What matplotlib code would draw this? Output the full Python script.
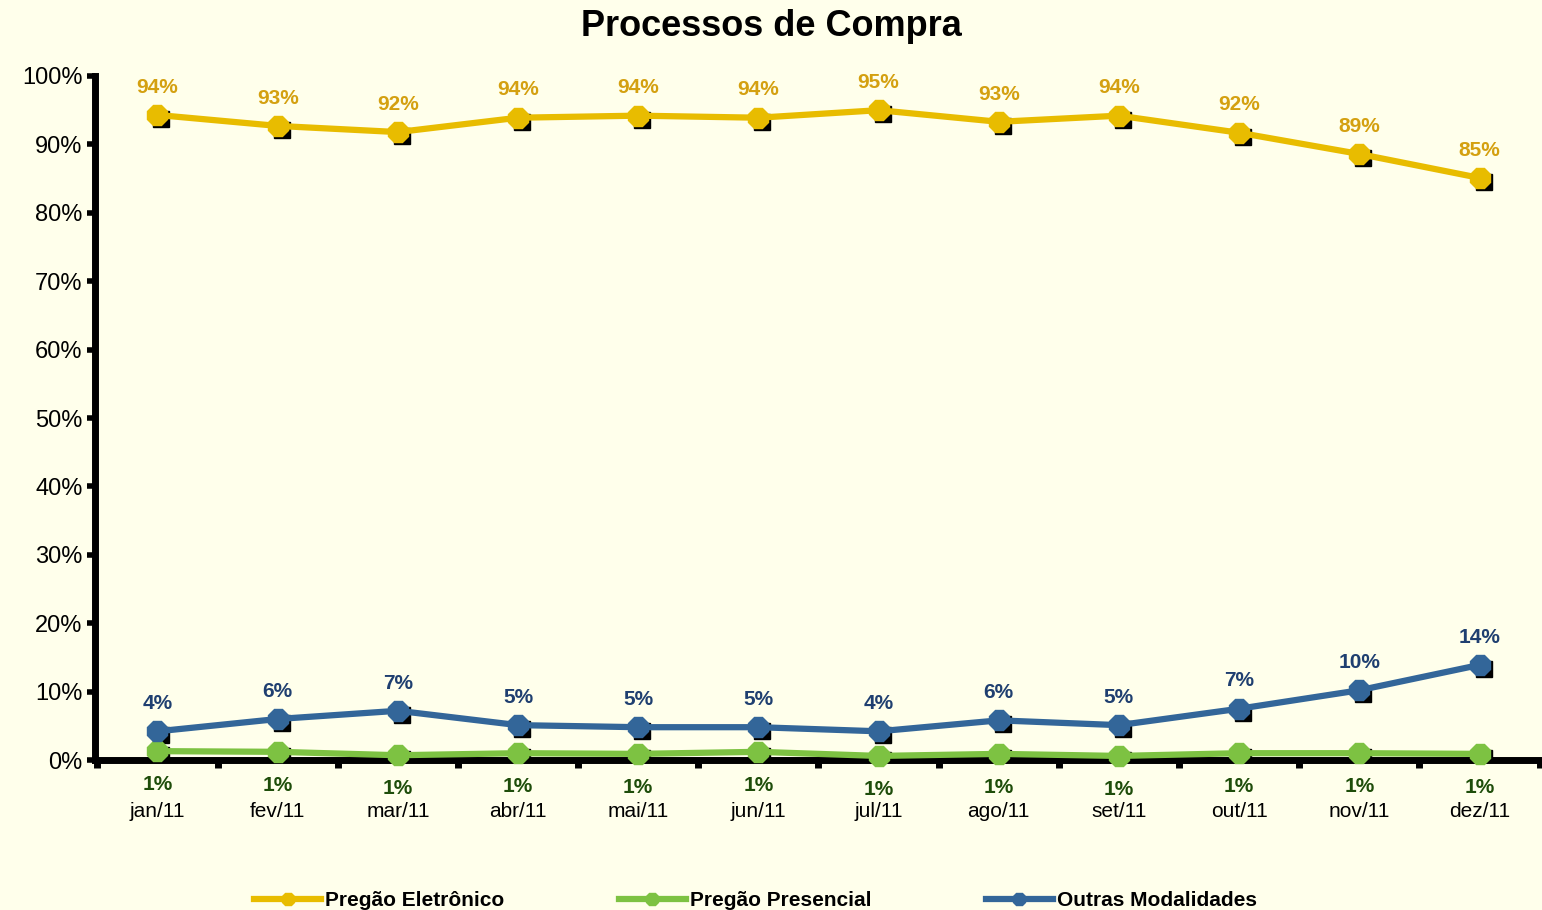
import matplotlib.pyplot as plt
from matplotlib.transforms import ScaledTranslation

meses = ["jan/11", "fev/11", "mar/11", "abr/11", "mai/11", "jun/11",
         "jul/11", "ago/11", "set/11", "out/11", "nov/11", "dez/11"]

eletronico = [94.3, 92.7, 91.8, 93.9, 94.2, 93.9, 95.0, 93.3, 94.2, 91.7, 88.6, 85.1]
presencial = [1.3, 1.2, 0.7, 1.0, 0.9, 1.2, 0.6, 0.9, 0.6, 1.0, 1.0, 0.9]
outras = [4.2, 6.0, 7.2, 5.1, 4.8, 4.8, 4.2, 5.8, 5.1, 7.5, 10.2, 13.9]

rot_eletronico = ["94%", "93%", "92%", "94%", "94%", "94%", "95%", "93%", "94%", "92%", "89%", "85%"]
rot_presencial = ["1%"] * 12
rot_outras = ["4%", "6%", "7%", "5%", "5%", "5%", "4%", "6%", "5%", "7%", "10%", "14%"]

BG = "#FFFFEB"
plt.rcParams["font.family"] = ["Liberation Sans", "DejaVu Sans"]

fig = plt.figure(figsize=(15.42, 9.10), dpi=100, facecolor=BG)
ax = fig.add_axes([0.0616, 0.1648, 0.9384, 0.7517])
ax.set_facecolor(BG)

x = list(range(len(meses)))
series = [
    (eletronico, rot_eletronico, "#E8BC00", "#D4A010", 20, "Pregão Eletrônico"),
    (presencial, rot_presencial, "#7DC242", "#1E4D0A", -24, "Pregão Presencial"),
    (outras, rot_outras, "#336699", "#1F3F70", 20, "Outras Modalidades"),
]

sombra = ax.transData + ScaledTranslation(4 / 100, -4 / 100, fig.dpi_scale_trans)
handles = []
for vals, rots, cor, cor_rot, off, nome in series:
    # sombra preta atras dos marcadores
    ax.plot(x, vals, linestyle="none", marker="s", markersize=12, color="black",
            transform=sombra, zorder=2)
    h, = ax.plot(x, vals, color=cor, linewidth=4.5, marker="8", markersize=16,
                 markeredgecolor=cor, zorder=3, label=nome, clip_on=False)
    handles.append(h)
    for xi, v, r in zip(x, vals, rots):
        ax.annotate(r, (xi, v), xytext=(0, off), textcoords="offset points",
                    ha="center", va="center", fontsize=15, fontweight="bold",
                    color=cor_rot)

ax.set_xlim(-0.52, len(meses) - 0.48)
ax.set_ylim(0, 100)
ax.set_yticks(range(0, 101, 10))
ax.set_yticklabels([f"{v}%" for v in range(0, 101, 10)], fontsize=17)

ax.set_xticks([i + 0.5 for i in range(-1, len(meses))])
ax.set_xticklabels([])
ax.set_xticks(x, minor=True)
ax.set_xticklabels(meses, minor=True, fontsize=15)
ax.tick_params(axis="x", which="minor", length=0, pad=30)
ax.tick_params(axis="x", which="major", length=6, width=5, direction="out")
ax.tick_params(axis="y", length=6, width=4, direction="out", pad=3)

for s in ["top", "right"]:
    ax.spines[s].set_visible(False)
for s in ["left", "bottom"]:
    ax.spines[s].set_linewidth(5)
    ax.spines[s].set_color("black")

fig.suptitle("Processos de Compra", y=0.99, fontsize=26, fontweight="bold")

fig.legend(handles=handles, loc="lower center", bbox_to_anchor=(0.49, -0.021),
           ncol=3, frameon=False, columnspacing=5.5, handlelength=3.2, handletextpad=0.2,
           markerscale=0.6,
           prop={"weight": "bold", "size": 15, "family": ["Liberation Sans Narrow", "Liberation Sans"]})

fig.savefig("out.png", dpi=100, facecolor=BG)
